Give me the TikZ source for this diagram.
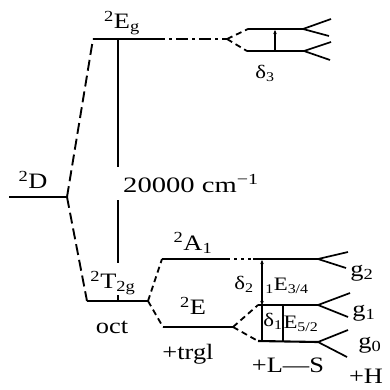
\documentclass[tikz,border=0pt]{standalone}
\usepackage{fontspec}
\setmainfont{Liberation Serif}
\usetikzlibrary{arrows.meta}
\newcommand\wtxt[2][1.2]{\scalebox{#1}[1]{#2}}
\tikzset{
  lvl/.style={line width=2.1pt},
  brk/.style={line width=1.9pt, dash pattern=on 11pt off 5pt},
  spl/.style={line width=1.8pt, dash pattern=on 6pt off 4pt},
  dd/.style={line width=1.9pt, dash pattern=on 12pt off 4pt on 3pt off 4pt},
  dots/.style={line width=1.9pt, dash pattern=on 3pt off 4pt},
  fork/.style={line width=1.7pt},
  gap/.style={line width=1.7pt},
  lbl/.style={inner sep=0pt, font=\fontsize{22}{26}\selectfont},
  slbl/.style={inner sep=0pt, font=\fontsize{19}{22}\selectfont},
}
\begin{document}
\begin{tikzpicture}[x=1pt,y=-1pt]
\useasboundingbox (0,0) rectangle (390,389);
% coordinates
\coordinate (Dl) at (9,197);
\coordinate (Dr) at (67,197);
\coordinate (Egl) at (93,39);
\coordinate (Egs) at (153,39);
\coordinate (Egd) at (227,39);
\coordinate (Eu1) at (248,29);
\coordinate (Eu2) at (303,29);
\coordinate (Eut1) at (331,19);
\coordinate (Eut2) at (329,36);
\coordinate (Ed1) at (247,51);
\coordinate (Ed2) at (304,51);
\coordinate (Edt1) at (331,42);
\coordinate (Edt2) at (330,60);
\coordinate (d3a) at (275,30);
\coordinate (d3b) at (275,50);
\coordinate (Vt) at (118,39);
\coordinate (Vm1) at (118,167);
\coordinate (Vm2) at (118,200);
\coordinate (Vb) at (118,263);
\coordinate (Tk1) at (118,295);
\coordinate (Tl) at (87,301);
\coordinate (Tk2) at (118,301);
\coordinate (Tr) at (148,301);
\coordinate (Al) at (162,259);
\coordinate (As) at (227,259);
\coordinate (Ad) at (253,259);
\coordinate (Af) at (318,259);
\coordinate (At1) at (348,252);
\coordinate (At2) at (346,268);
\coordinate (Xl) at (163,327);
\coordinate (Xr) at (233,327);
\coordinate (Ml) at (258,305);
\coordinate (Mf) at (318,305);
\coordinate (Mt1) at (350,293);
\coordinate (Mt2) at (348,317);
\coordinate (Ll) at (258,341);
\coordinate (Lf) at (318,342);
\coordinate (Lt1) at (348,330);
\coordinate (Lt2) at (347,357);
\coordinate (g2a) at (262,260);
\coordinate (g1a) at (262,305);
\coordinate (g0a) at (262,341);
\coordinate (g1b) at (283,305);
\coordinate (g0b) at (283,341);
% free ion
\draw[lvl] (Dl) -- (Dr);
\draw[brk] (Dr) -- (Egl);
\draw[brk] (Dr) -- (Tl);
% Eg
\draw[lvl] (Egl) -- (Egs);
\draw[dd] (Egs) -- (Egd);
\draw[spl] (Egd) -- (Eu1);
\draw[spl] (Egd) -- (Ed1);
\draw[lvl] (Eu1) -- (Eu2);
\draw[lvl] (Ed1) -- (Ed2);
\draw[fork] (Eu2) -- (Eut1);
\draw[fork] (Eu2) -- (Eut2);
\draw[fork] (Ed2) -- (Edt1);
\draw[fork] (Ed2) -- (Edt2);
\draw[gap, -{Stealth[length=4pt,width=3.5pt]}] (d3b) -- (d3a);
% 10Dq
\draw[gap] (Vt) -- (Vm1);
\draw[gap] (Vm2) -- (Vb);
\draw[gap] (Tk1) -- (Tk2);
% T2g
\draw[lvl] (Tl) -- (Tr);
\draw[spl] (Tr) -- (Al);
\draw[spl] (Tr) -- (Xl);
% A1
\draw[lvl] (Al) -- (As);
\draw[dots] (As) -- (Ad);
\draw[lvl] (Ad) -- (Af);
\draw[fork] (Af) -- (At1);
\draw[fork] (Af) -- (At2);
% E
\draw[lvl] (Xl) -- (Xr);
\draw[spl] (Xr) -- (Ml);
\draw[spl] (Xr) -- (Ll);
\draw[lvl] (Ml) -- (Mf);
\draw[lvl] (Ll) -- (Lf);
\draw[fork] (Mf) -- (Mt1);
\draw[fork] (Mf) -- (Mt2);
\draw[fork] (Lf) -- (Lt1);
\draw[fork] (Lf) -- (Lt2);
% gaps
\draw[gap, {Stealth[length=4pt,width=3.5pt]}-{Stealth[length=4pt,width=3.5pt]}] (g1a) -- (g2a);
\draw[gap] (g0a) -- (g1a);
\draw[gap] (g0b) -- (g1b);
% labels
\node[lbl] (tEg) at (122,23) {\wtxt{\textsuperscript{2}E\textsubscript{g}}};
\node[lbl] (tD) at (33,180) {\wtxt{\textsuperscript{2}D}};
\node[lbl, anchor=base west] (tQ) at (123,192) {\wtxt[1.3]{20000 cm\textsuperscript{−1}}};
\node[slbl] (td3) at (265,73) {\wtxt{δ\textsubscript{3}}};
\node[lbl] (tA1) at (193,243) {\wtxt{\textsuperscript{2}A\textsubscript{1}}};
\node[lbl] (tT2g) at (113,283) {\wtxt{\textsuperscript{2}T\textsubscript{2g}}};
\node[lbl] (toct) at (112,327) {\wtxt{oct}};
\node[lbl] (tE) at (193,306) {\wtxt{\textsuperscript{2}E}};
\node[lbl] (ttrg) at (188,354) {\wtxt{+trgl}};
\node[slbl] (td2) at (244,284) {\wtxt{δ\textsubscript{2}}};
\node[slbl] (tE34) at (287,286) {\wtxt{\textsubscript{1}E\textsubscript{3/4}}};
\node[slbl] (td1) at (273,321) {\wtxt{δ\textsubscript{1}}};
\node[slbl] (tE52) at (301,324) {\wtxt{E\textsubscript{5/2}}};
\node[lbl] (tLS) at (288,365) {\wtxt{+L—S}};
\node[lbl] (tH) at (366,376) {\wtxt{+H}};
\node[lbl] (tg2) at (362,273) {\wtxt{g\textsubscript{2}}};
\node[lbl] (tg1) at (364,313) {\wtxt{g\textsubscript{1}}};
\node[lbl] (tg0) at (370,345) {\wtxt{g\textsubscript{0}}};
\end{tikzpicture}
\end{document}
